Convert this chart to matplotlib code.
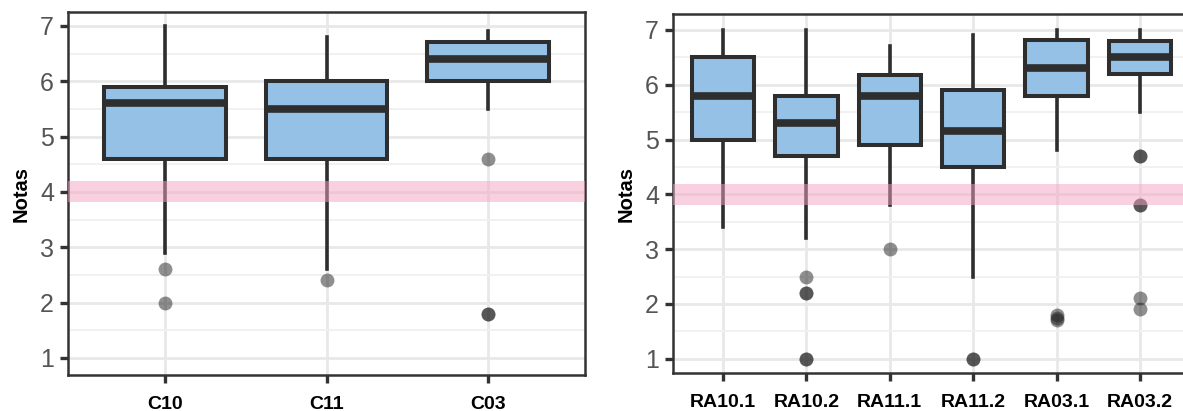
import matplotlib.pyplot as plt
import numpy as np

plt.rcParams['font.family'] = ['Liberation Sans', 'DejaVu Sans']

# left panel: competences
comp_labels = ["C10", "C11", "C03"]
comp_whislo = [2.9, 2.6, 5.5]
comp_q1 = [4.6, 4.6, 6.0]
comp_med = [5.6, 5.5, 6.4]
comp_q3 = [5.9, 6.0, 6.7]
comp_whishi = [7.0, 6.8, 6.9]
comp_fliers = [[2.6, 2.0], [2.4], [4.6, 1.8, 1.8]]

# right panel: learning results
ra_labels = ["RA10.1", "RA10.2", "RA11.1", "RA11.2", "RA03.1", "RA03.2"]
ra_whislo = [3.4, 3.2, 3.8, 2.5, 4.8, 5.5]
ra_q1 = [5.0, 4.7, 4.9, 4.5, 5.8, 6.2]
ra_med = [5.8, 5.3, 5.8, 5.15, 6.3, 6.5]
ra_q3 = [6.5, 5.8, 6.17, 5.9, 6.82, 6.8]
ra_whishi = [7.0, 7.0, 6.7, 6.9, 7.0, 7.0]
ra_fliers = [[], [2.5, 2.2, 2.2, 1.0, 1.0], [3.0], [1.0, 1.0],
             [1.8, 1.75, 1.7], [4.7, 4.7, 3.8, 3.8, 2.1, 1.9]]

pass_mark = 4.0

W, H = 1183, 411
fig = plt.figure(figsize=(W / 100, H / 100), dpi=100)
ax1 = fig.add_axes([68 / W, (H - 375) / H, (585 - 68) / W, (375 - 12) / H])
ax2 = fig.add_axes([673 / W, (H - 373) / H, (1190 - 673) / W, (373 - 14) / H])


def make_stats(labels, lo, q1, med, q3, hi, fl):
    out = []
    for i in range(len(labels)):
        out.append(dict(label=labels[i], whislo=lo[i], q1=q1[i], med=med[i],
                        q3=q3[i], whishi=hi[i], fliers=fl[i]))
    return out


def draw(ax, stats, ylim):
    ax.bxp(stats, widths=0.75, patch_artist=True, showcaps=False,
           boxprops=dict(facecolor='#95c1e7', edgecolor='#2e2e2e', linewidth=2.9),
           medianprops=dict(color='#2e2e2e', linewidth=5.5, solid_capstyle='butt'),
           whiskerprops=dict(color='#2e2e2e', linewidth=2.6),
           flierprops=dict(marker='o', markersize=10, markerfacecolor='#202020',
                           markeredgecolor='none', alpha=0.5),
           zorder=2)
    ax.axhspan(pass_mark - 0.19, pass_mark + 0.19, color='#f2a3c0', alpha=0.5,
               linewidth=0, zorder=3)
    n = len(stats)
    ax.set_xlim(0.4, n + 0.6)
    ax.set_ylim(*ylim)
    ax.set_yticks(np.arange(1, 8))
    ax.set_yticks(np.arange(1.5, 7.0, 1.0), minor=True)
    ax.set_axisbelow(True)
    ax.grid(which='major', color='#e8e8e8', linewidth=2.0)
    ax.grid(which='minor', axis='y', color='#f1f1f1', linewidth=1.4)
    ax.tick_params(axis='y', which='minor', length=0)
    ax.tick_params(axis='both', which='major', length=6, width=2.4,
                   color='#333333')
    ax.tick_params(axis='y', labelsize=18, labelcolor='#555555', pad=4)
    ax.tick_params(axis='x', labelsize=14, pad=9)
    for t in ax.get_xticklabels():
        t.set_fontweight('bold')
    for s in ax.spines.values():
        s.set_color('#333333')
        s.set_linewidth(1.8)
    ax.set_ylabel("Notas", fontsize=14.5, fontweight='bold', labelpad=7)


draw(ax1, make_stats(comp_labels, comp_whislo, comp_q1, comp_med, comp_q3,
                     comp_whishi, comp_fliers), (0.69, 7.25))
draw(ax2, make_stats(ra_labels, ra_whislo, ra_q1, ra_med, ra_q3,
                     ra_whishi, ra_fliers), (0.74, 7.29))

fig.savefig("out.png", dpi=100)
